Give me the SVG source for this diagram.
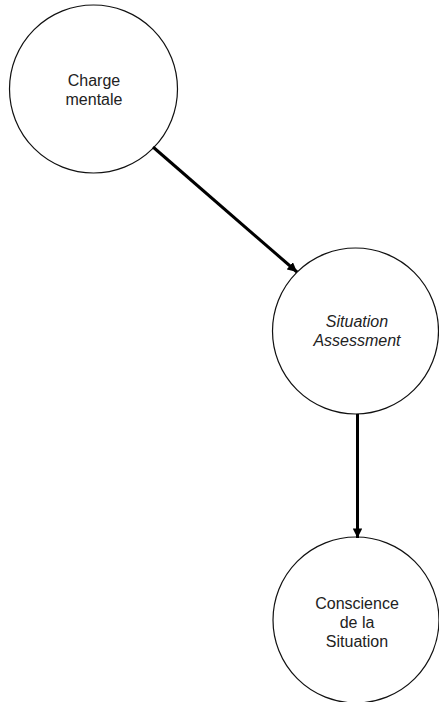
<svg xmlns="http://www.w3.org/2000/svg" width="439" height="702" viewBox="0 0 439 702">
<style>
.node{fill:#fff;stroke:#111;stroke-width:1.2}
.lbl{font-family:"Liberation Sans",Arial,sans-serif;font-size:16px;fill:#222;text-anchor:middle}
.edge{stroke:#000;stroke-width:3;fill:none}
</style>
<defs>
<marker id="ah" viewBox="0 0 10 10" refX="10" refY="5" markerWidth="3.2" markerHeight="3.2" orient="auto" markerUnits="strokeWidth">
<path d="M0,0 L10,5 L0,10 z" fill="#000"/>
</marker>
</defs>
<rect width="439" height="702" fill="#fff"/>
<g id="n1">
<circle class="node" cx="93.5" cy="89" r="84"/>
<text class="lbl" x="94" y="86">Charge</text>
<text class="lbl" x="94" y="105">mentale</text>
</g>
<g id="n2">
<circle class="node" cx="355.5" cy="331" r="83"/>
<text class="lbl" x="357" y="327" font-style="italic">Situation</text>
<text class="lbl" x="357" y="346" font-style="italic">Assessment</text>
</g>
<g id="n3">
<circle class="node" cx="356" cy="620" r="83"/>
<text class="lbl" x="357" y="609">Conscience</text>
<text class="lbl" x="357" y="628">de la</text>
<text class="lbl" x="357" y="647">Situation</text>
</g>
<g id="edges">
<line class="edge" x1="153" y1="147" x2="297" y2="272" marker-end="url(#ah)"/>
<line class="edge" x1="357.5" y1="414" x2="357.5" y2="538" marker-end="url(#ah)"/>
</g>
</svg>
